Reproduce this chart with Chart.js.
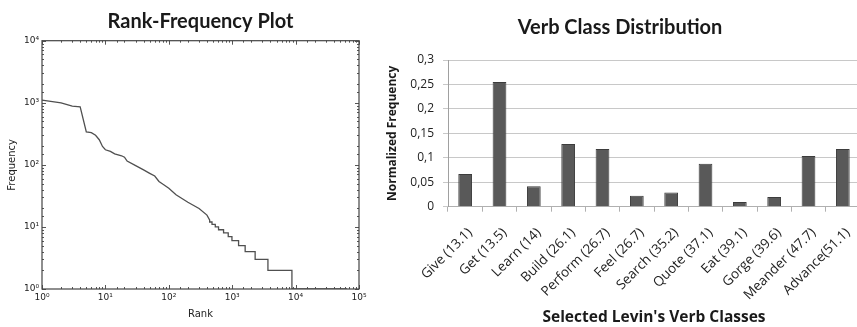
<!DOCTYPE html>
<html>
<head>
<meta charset="utf-8">
<script src="https://cdn.jsdelivr.net/npm/chart.js@4"></script>
<style>
    html, body { margin: 0; padding: 0; background: #fff; overflow: hidden; }
    #wrap { position: relative; width: 857px; height: 327px; overflow: hidden; }
    .panel { position: absolute; top: 0; height: 327px; }
    #left-panel { left: 0; width: 375px; }
    #right-panel { left: 380px; width: 480px; }
</style>
</head>
<body>
<div id="wrap">
    <div class="panel" id="left-panel"><canvas id="rankChart" width="375" height="327"></canvas></div>
    <div class="panel" id="right-panel"><canvas id="verbChart" width="480" height="327"></canvas></div>
</div>
<script>
// Rank-frequency curve (log-log)
const rankValues = [1, 2, 3, 4, 5, 6, 7, 8, 9, 10, 12, 14, 18, 20, 22, 30, 40, 50, 60, 70, 80, 100, 130, 200, 300, 400,
    440, 441, 480, 481, 540, 541, 608, 609, 730, 731, 865, 866, 990, 991, 1260, 1261, 1600, 1601, 2300, 2301,
    3660, 3661, 8750, 8751, 65000];
const freqValues = [1100, 1000, 880, 860, 340, 330, 300, 254, 198, 175, 165, 150, 140, 133, 115, 97, 83, 73, 66, 54, 49, 42, 33, 25, 19.8, 15.5,
    13, 12, 12, 11, 11, 10, 10, 9, 9, 8, 8, 7, 7, 6, 6, 5, 5, 4, 4, 3,
    3, 2, 2, 1, 1];

// Verb class distribution
const verbClasses = ['Give (13.1)', 'Get (13.5)', 'Learn (14)', 'Build (26.1)', 'Perform (26.7)', 'Feel (26.7)',
    'Search (35.2)', 'Quote (37.1)', 'Eat (39.1)', 'Gorge (39.6)', 'Meander (47.7)', 'Advance(51.1)'];
const normFrequency = [0.067, 0.255, 0.042, 0.128, 0.118, 0.0225, 0.029, 0.088, 0.0095, 0.0198, 0.1036, 0.118];
const freqTicks = [0, 0.05, 0.1, 0.15, 0.2, 0.25, 0.3];

const superDigits = { '0': '⁰', '1': '¹', '2': '²', '3': '³', '4': '⁴', '5': '⁵' };

function isDecade(v) {
    const l = Math.log10(v);
    return Math.abs(l - Math.round(l)) < 1e-9;
}

function decadeLabel(v) {
    if (!isDecade(v)) return '';
    return '10' + String(Math.round(Math.log10(v))).split('').map(d => superDigits[d]).join('');
}

// box frame with inward major/minor ticks on all four sides
const frameTicks = {
    id: 'frameTicks',
    afterDraw(chart) {
        const { ctx, chartArea: a, scales } = chart;
        ctx.save();
        ctx.strokeStyle = '#555';
        ctx.lineWidth = 1;
        scales.x.ticks.forEach(t => {
            const px = Math.round(scales.x.getPixelForValue(t.value)) + 0.5;
            const len = isDecade(t.value) ? 4 : 2;
            ctx.beginPath();
            ctx.moveTo(px, a.bottom); ctx.lineTo(px, a.bottom - len);
            ctx.moveTo(px, a.top); ctx.lineTo(px, a.top + len);
            ctx.stroke();
        });
        scales.y.ticks.forEach(t => {
            const py = Math.round(scales.y.getPixelForValue(t.value)) + 0.5;
            const len = isDecade(t.value) ? 4 : 2;
            ctx.beginPath();
            ctx.moveTo(a.left, py); ctx.lineTo(a.left + len, py);
            ctx.moveTo(a.right, py); ctx.lineTo(a.right - len, py);
            ctx.stroke();
        });
        ctx.strokeStyle = '#444';
        ctx.lineWidth = 1.2;
        ctx.strokeRect(a.left, a.top, a.right - a.left, a.bottom - a.top);
        ctx.restore();
    }
};

const mplTickFont = { family: 'DejaVu Sans', size: 9 };

new Chart(document.getElementById('rankChart').getContext('2d'), {
    type: 'line',
    data: {
        datasets: [{
            data: rankValues.map((r, i) => ({ x: r, y: freqValues[i] })),
            borderColor: '#505050',
            borderWidth: 1.3,
            pointRadius: 0,
            tension: 0,
            fill: false
        }]
    },
    options: {
        responsive: false,
        animation: false,
        layout: { padding: { left: 0, right: 16, top: 0, bottom: 0 } },
        plugins: {
            legend: { display: false },
            tooltip: { enabled: false },
            title: {
                display: true,
                text: 'Rank-Frequency Plot',
                fullSize: false,
                color: '#1a1a1a',
                font: { family: 'Lato', size: 20, weight: 'bold', lineHeight: 1.2 },
                padding: { top: 10, bottom: 6.7 }
            }
        },
        scales: {
            x: {
                type: 'logarithmic',
                min: 1,
                max: 100000,
                grid: { display: false, drawTicks: false },
                border: { display: false },
                ticks: {
                    autoSkip: false,
                    maxRotation: 0,
                    padding: 3,
                    color: '#222',
                    font: mplTickFont,
                    callback: v => decadeLabel(v)
                },
                title: {
                    display: true,
                    text: 'Rank',
                    color: '#222',
                    font: { family: 'DejaVu Sans', size: 10, lineHeight: 1.2 },
                    padding: { top: 0, bottom: 7 }
                },
                afterFit: s => { s.height = 38; }
            },
            y: {
                type: 'logarithmic',
                min: 1,
                max: 10000,
                grid: { display: false, drawTicks: false },
                border: { display: false },
                ticks: {
                    autoSkip: false,
                    padding: 3,
                    color: '#222',
                    font: mplTickFont,
                    callback: v => decadeLabel(v)
                },
                title: {
                    display: true,
                    text: 'Frequency',
                    color: '#222',
                    font: { family: 'DejaVu Sans', size: 10, lineHeight: 1.2 },
                    padding: { top: 6, bottom: 0 }
                },
                afterFit: s => { s.width = 42; }
            }
        }
    },
    plugins: [frameTicks]
});

new Chart(document.getElementById('verbChart').getContext('2d'), {
    type: 'bar',
    data: {
        labels: verbClasses,
        datasets: [{
            data: normFrequency,
            backgroundColor: '#595959',
            borderColor: '#3c3c3c',
            borderWidth: 1,
            barPercentage: 0.4,
            categoryPercentage: 1
        }]
    },
    options: {
        responsive: false,
        animation: false,
        layout: { padding: 0 },
        plugins: {
            legend: { display: false },
            tooltip: { enabled: false },
            title: {
                display: true,
                text: 'Verb Class Distribution',
                color: '#1a1a1a',
                font: { family: 'Lato', size: 20, weight: 'bold', lineHeight: 1.2 },
                padding: { top: 16, bottom: 20 }
            }
        },
        scales: {
            x: {
                grid: {
                    drawOnChartArea: false,
                    drawTicks: true,
                    tickLength: 5,
                    color: '#b0b0b0'
                },
                border: { display: true, color: '#b0b0b0' },
                ticks: {
                    autoSkip: false,
                    minRotation: 45,
                    maxRotation: 45,
                    padding: 13,
                    labelOffset: 5,
                    color: '#222',
                    font: { family: 'Open Sans', size: 13.5 }
                },
                title: {
                    display: true,
                    text: "Selected Levin's Verb Classes",
                    color: '#1a1a1a',
                    font: { family: 'Open Sans', size: 15.5, weight: 'bold', lineHeight: 1.2 },
                    padding: { top: 0, bottom: 0 }
                },
                // plot runs to the right edge of the canvas
                afterFit: s => {
                    s.height = 120.3;
                    s.paddingLeft = 0;
                    s.paddingRight = 0;
                }
            },
            y: {
                min: 0,
                max: 0.3,
                grid: {
                    color: '#c8c8c8',
                    drawTicks: true,
                    tickLength: 5
                },
                border: { display: true, color: '#a0a0a0' },
                afterBuildTicks: s => { s.ticks = freqTicks.map(v => ({ value: v })); },
                ticks: {
                    padding: 9,
                    color: '#222',
                    font: { family: 'Open Sans', size: 12 },
                    callback: v => String(Math.round(v * 100) / 100).replace('.', ',')
                },
                title: {
                    display: true,
                    text: 'Normalized Frequency',
                    color: '#1a1a1a',
                    font: { family: 'Open Sans', size: 12, weight: 'bold', lineHeight: 1.2 },
                    padding: { top: 5, bottom: 0 }
                },
                afterFit: s => { s.width = 68; }
            }
        }
    }
});
</script>
</body>
</html>
